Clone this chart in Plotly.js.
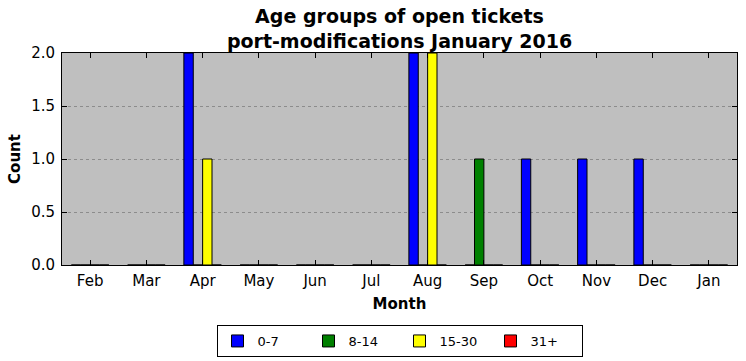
<!DOCTYPE html>
<html>
<head>
<meta charset="utf-8">
<script src="https://cdn.plot.ly/plotly-3.0.1.min.js"></script>
<style>html,body{margin:0;padding:0;background:#fff;}#chart{width:746px;height:361px;}</style>
</head>
<body>
<div id="chart"></div>
<script>
const months = ["Feb","Mar","Apr","May","Jun","Jul","Aug","Sep","Oct","Nov","Dec","Jan"];
const seriesNames = ["0-7","8-14","15-30","31+"];
const age0_7   = [0,0,2,0,0,0,2,0,1,1,1,0];
const age8_14  = [0,0,0,0,0,0,0,1,0,0,0,0];
const age15_30 = [0,0,1,0,0,0,2,0,0,0,0,0];
const age31p   = [0,0,0,0,0,0,0,0,0,0,0,0];
const colors = ["#0000ff","#008000","#ffff00","#ff0000"];
const values = [age0_7, age8_14, age15_30, age31p];

const traces = values.map((v,i)=>({
  type:"bar", name:seriesNames[i], x:months, y:v,
  marker:{color:colors[i], line:{color:"#000", width:1}},
  hoverinfo:"skip"
}));

const font = "DejaVu Sans, sans-serif";
const layout = {
  width:746, height:361,
  margin:{l:62, r:9, t:53, b:96, autoexpand:false},
  paper_bgcolor:"#ffffff", plot_bgcolor:"#bfbfbf",
  barmode:"group", bargap:1/3, bargroupgap:0,
  font:{family:font, color:"#000", size:15},
  title:{text:"<b>Age groups of open tickets<br>port-modifications January 2016</b>",
         font:{family:font, size:19, color:"#000"},
         x:0.5, xref:"paper", xanchor:"center", y:1-23/361, yref:"container", yanchor:"top"},
  xaxis:{type:"category", range:[-0.5,11.5], showline:true, linecolor:"#000", linewidth:1, mirror:"ticks",
         ticks:"inside", ticklen:5, tickcolor:"#000", showgrid:false, zeroline:false,
         tickfont:{family:font, size:15}, ticklabelstandoff:2,
         title:{text:"<b>Month</b>", font:{family:font, size:15}, standoff:9}},
  yaxis:{range:[0,2], tickvals:[0,0.5,1,1.5,2], ticktext:["0.0","0.5","1.0","1.5","2.0"],
         showline:true, linecolor:"#000", linewidth:1, mirror:"ticks",
         ticks:"inside", ticklen:5, tickcolor:"#000",
         showgrid:true, gridcolor:"#8c8c8c", griddash:"dot", gridwidth:1, zeroline:false,
         tickfont:{family:font, size:15}, ticklabelstandoff:3,
         title:{text:"<b>Count</b>", font:{family:font, size:15}, standoff:6}},
  showlegend:true,
  legend:{orientation:"h", x:0.5, xanchor:"center", xref:"paper", y:1-325/361, yref:"container", yanchor:"top",
          bordercolor:"#000", borderwidth:1, bgcolor:"#fff",
          font:{family:font, size:13}, traceorder:"normal", entrywidth:46}
};
Plotly.newPlot("chart", traces, layout, {staticPlot:true, displayModeBar:false});
</script>
</body>
</html>
